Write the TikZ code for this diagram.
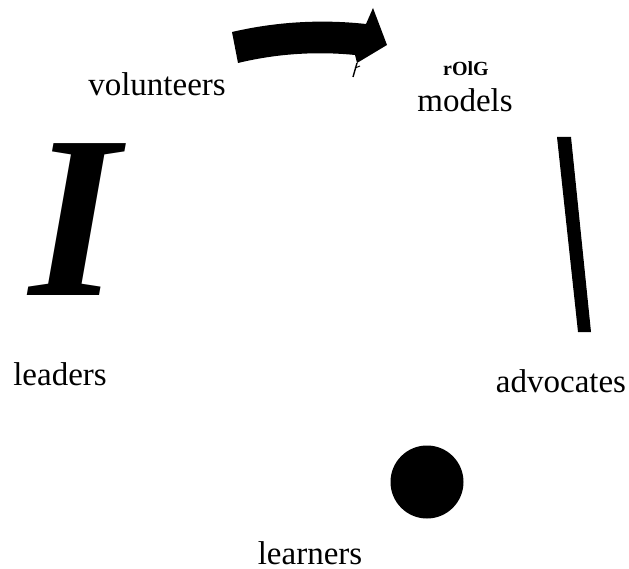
\documentclass[tikz,border=0pt]{standalone}
\usepackage{fontspec}
\setmainfont{Liberation Serif}
\begin{document}
\begin{tikzpicture}[x=1pt,y=-1pt,
  lbl/.style={font=\fontsize{33}{40}\selectfont, inner sep=0pt, anchor=base},
  tag/.style={font=\bfseries\fontsize{20}{24}\selectfont, inner sep=0pt, anchor=base},
  ink/.style={fill=black, draw=none}]
  \useasboundingbox (0,0) rectangle (629,569);

  % role labels around the cycle
  \node[lbl] (volunteers) at (157,96) {volunteers};
  \node[tag] (tagline) at (466,76) {rOlG};
  \node[lbl] (models) at (465,112) {models};
  \node[lbl] (leaders) at (60,385) {leaders};
  \node[lbl] (advocates) at (561,392) {advocates};
  \node[lbl] (learners) at (310,564) {learners};

  % stray marks over the word models
  \draw[line width=1.2pt] (473.5,90) -- (472.5,96);
  \fill (487,97) circle (1.3);

  % curved block arrow at the top
  \fill[ink] (232,32) .. controls (275,22) and (320,19) .. (366,24)
    -- (373,8) -- (387,45) -- (357,63) -- (355,55)
    .. controls (315,51) and (275,54) .. (238,63) -- cycle;
  \draw[line width=1.4pt] (353,77) -- (357,63);
  \draw[line width=1pt] (355,68) -- (360,66);

  % large italic stroke on the left
  \node[font=\bfseries\itshape\fontsize{232}{240}\selectfont, inner sep=0pt, anchor=base] (bar) at (75,296) {I};

  % slanted bar on the right
  \fill[ink] (557,137) -- (571,137) -- (591,332) -- (578,332) -- cycle;

  % dot near the bottom
  \fill[ink] (427,482) circle (36.5);
\end{tikzpicture}
\end{document}
